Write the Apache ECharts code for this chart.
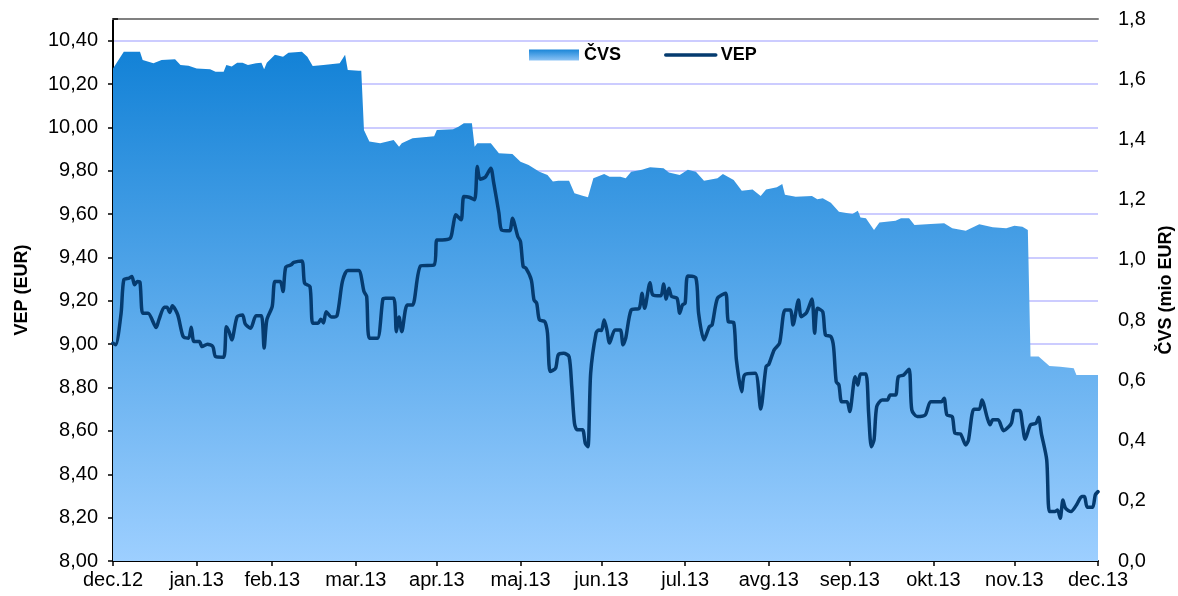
<!DOCTYPE html>
<html>
<head>
<meta charset="utf-8">
<script src="https://cdn.jsdelivr.net/npm/echarts@6/dist/echarts.min.js"></script>
<style>
html,body{margin:0;padding:0;background:#fff;}
#chart{width:1178px;height:596px;}
</style>
</head>
<body>
<div id="chart"></div>
<script>
// Month-end tick labels (x axis)
const tickLabels = ['dec.12','jan.13','feb.13','mar.13','apr.13','maj.13','jun.13','jul.13','avg.13','sep.13','okt.13','nov.13','dec.13'];

// ČVS (mio EUR) – day offsets from 31.12.2012 and values
const cvsDays = [0,4,10,11,15,18,23,25,28,31,
  36,38,41,42,44,46,48,50,53,55,
  56,57,60,63,65,70,72,74,78,84,
  86,87,91,92,93,95,99,104,106,107,
  111,119,120,126,128,130,133,134,135,140,
  143,148,151,154,158,161,163,165,169,171,
  174,176,178,182,184,188,190,192,196,199,
  204,206,210,213,216,219,224,226,230,233,
  237,240,242,246,248,249,253,259,261,263,
  266,269,274,276,277,279,282,284,290,292,
  295,297,303,308,311,316,321,326,331,334,
  337,339,340,343,347,351,356,357,365];
const cvsValues = [1.636,1.691,1.691,1.664,1.653,1.664,1.666,1.647,1.645,1.636,
  1.633,1.625,1.625,1.647,1.642,1.655,1.655,1.647,1.653,1.655,
  1.633,1.655,1.681,1.675,1.688,1.691,1.675,1.644,1.647,1.653,
  1.681,1.631,1.628,1.628,1.431,1.393,1.387,1.398,1.376,1.387,
  1.404,1.411,1.431,1.434,1.442,1.454,1.454,1.376,1.387,1.387,
  1.354,1.352,1.326,1.315,1.293,1.282,1.260,1.263,1.263,1.221,
  1.213,1.208,1.271,1.285,1.276,1.276,1.271,1.293,1.299,1.308,
  1.304,1.290,1.282,1.299,1.293,1.263,1.271,1.285,1.265,1.230,
  1.234,1.212,1.234,1.241,1.252,1.216,1.210,1.212,1.201,1.205,
  1.190,1.160,1.152,1.163,1.141,1.138,1.099,1.124,1.130,1.138,
  1.138,1.116,1.119,1.122,1.105,1.097,1.118,1.108,1.105,1.113,
  1.110,1.099,0.679,0.679,0.648,0.645,0.640,0.618,0.618];

// VEP (EUR) – day offsets from 31.12.2012 and values
const vepDays = [0,1,3,4,6,7,8,9,10,11,
  13,16,17,19,20,21,22,24,26,28,
  29,30,32,33,35,37,38,41,42,43,
  44,46,48,49,51,53,55,56,57,59,
  60,62,63,64,66,67,70,71,73,74,
  76,77,78,79,81,83,85,87,91,93,
  94,95,98,100,101,104,105,106,107,109,
  111,114,119,120,122,125,126,127,129,130,
  132,134,135,136,138,140,141,143,144,147,
  148,150,151,152,153,155,156,157,158,160,
  161,162,164,165,167,169,170,171,172,174,
  175,176,177,179,180,181,182,183,184,186,
  188,189,190,192,195,196,197,199,200,203,
  204,205,206,207,209,210,211,212,213,216,
  217,219,221,222,224,227,228,230,231,233,
  234,238,240,242,243,245,247,249,251,252,
  254,255,257,259,260,261,263,264,266,267,
  268,269,270,272,273,275,276,277,279,280,
  281,282,283,285,287,288,290,291,293,295,
  296,298,301,303,307,308,309,311,312,314,
  316,317,319,321,322,324,325,326,328,330,
  332,333,334,336,337,338,340,342,343,344,
  346,347,349,350,351,352,353,355,357,359,
  360,361,363,364,365];
const vepValues = [9.005,8.997,9.143,9.297,9.305,9.312,9.274,9.289,9.285,9.143,
  9.143,9.077,9.112,9.171,9.171,9.146,9.177,9.135,9.035,9.028,
  9.078,9.012,9.012,8.989,9.000,8.989,8.943,8.940,9.081,9.058,
  9.020,9.127,9.135,9.094,9.074,9.131,9.131,8.982,9.112,9.174,
  9.289,9.289,9.243,9.355,9.366,9.377,9.384,9.281,9.266,9.097,
  9.097,9.115,9.098,9.150,9.125,9.131,9.289,9.340,9.340,9.243,
  9.220,9.028,9.028,9.208,9.212,9.212,9.058,9.125,9.058,9.181,
  9.181,9.361,9.366,9.481,9.481,9.489,9.543,9.597,9.574,9.681,
  9.678,9.666,9.820,9.761,9.771,9.812,9.750,9.605,9.527,9.523,
  9.581,9.497,9.473,9.358,9.351,9.297,9.204,9.189,9.112,9.104,
  9.051,8.874,8.889,8.951,8.958,8.943,8.804,8.635,8.605,8.605,
  8.543,8.527,8.866,9.051,9.066,9.063,9.112,9.066,9.005,9.066,
  9.066,8.997,9.028,9.158,9.166,9.235,9.166,9.284,9.228,9.223,
  9.278,9.208,9.258,9.220,9.212,9.143,9.181,9.189,9.315,9.305,
  9.143,9.020,9.081,9.089,9.212,9.235,9.104,9.100,8.928,8.781,
  8.858,8.866,8.701,8.897,8.907,8.974,9.005,9.158,9.158,9.089,
  9.204,9.127,9.146,9.208,9.051,9.166,9.150,9.043,9.035,8.989,
  8.827,8.812,8.735,8.735,8.689,8.850,8.812,8.862,8.862,8.682,
  8.527,8.558,8.712,8.743,8.743,8.766,8.766,8.850,8.858,8.885,
  8.697,8.666,8.674,8.735,8.735,8.751,8.674,8.666,8.589,8.586,
  8.535,8.558,8.700,8.700,8.743,8.659,8.628,8.651,8.651,8.601,
  8.620,8.638,8.694,8.694,8.628,8.562,8.628,8.635,8.663,8.589,
  8.466,8.228,8.228,8.235,8.197,8.281,8.243,8.228,8.258,8.297,
  8.297,8.248,8.248,8.305,8.320];

// Day offset (from 31.12.2012) of each month-end tick: dec.12 .. dec.13
const DAY = 86400000;
const origin = Date.UTC(2012, 11, 31);
const tickDays = tickLabels.map((_, i) => Math.round((Date.UTC(2013, i, 0) - origin) / DAY));

const cvsData = cvsDays.map((d, i) => [d, cvsValues[i]]);
const vepData = vepDays.map((d, i) => [d, vepValues[i]]);

const FONT = '"Liberation Sans", Arial, sans-serif';
const chart = echarts.init(document.getElementById('chart'), null, {renderer: 'canvas'});

const areaGradient = new echarts.graphic.LinearGradient(0, 19, 0, 561, [
  {offset: 0, color: '#0a7dd4'},
  {offset: 1, color: '#9dcfff'}
], true);
const legendGradient = new echarts.graphic.LinearGradient(0, 0, 0, 1, [
  {offset: 0, color: '#1a86d8'},
  {offset: 1, color: '#8cc3f5'}
]);

function fmtLabel(val){
  const i = tickDays.indexOf(Math.round(val));
  return i >= 0 ? tickLabels[i] : '';
}

chart.setOption({
  animation: false,
  backgroundColor: '#ffffff',
  textStyle: {fontFamily: FONT},
  grid: {left: 113, right: 80, top: 19, bottom: 35, containLabel: false, outerBoundsMode: 'none'},
  legend: {
    left: 524, top: 41,
    itemWidth: 50, itemHeight: 11, itemGap: 43,
    textStyle: {fontFamily: FONT, fontSize: 18, fontWeight: 'bold', color: '#000'},
    data: [
      {name: 'ČVS', icon: 'rect', itemStyle: {color: legendGradient}},
      {name: 'VEP', itemStyle: {color: 'rgba(0,0,0,0)', borderWidth: 0, borderColor: 'rgba(0,0,0,0)'},
        lineStyle: {width: 3.5, color: '#053b6f'}}
    ]
  },
  xAxis: [{
    type: 'value',
    min: 0, max: 365,
    splitLine: {show: false},
    axisLine: {show: true, lineStyle: {color: '#000', width: 2}},
    axisTick: {show: true, length: 5, lineStyle: {color: '#000', width: 1.5}, customValues: tickDays},
    axisLabel: {
      customValues: tickDays,
      formatter: fmtLabel,
      fontSize: 20, color: '#000', margin: 9, fontFamily: FONT,
      hideOverlap: false
    }
  }, {
    type: 'value', position: 'top',
    min: 0, max: 365,
    splitLine: {show: false},
    axisLine: {show: true, lineStyle: {color: '#808080', width: 2}},
    axisTick: {show: false},
    axisLabel: {show: false}
  }],
  yAxis: [{
    type: 'value', position: 'left',
    min: 8, max: 10.5, interval: 0.2,
    name: 'VEP (EUR)', nameLocation: 'middle', nameRotate: 90, nameGap: 82,
    nameTextStyle: {fontFamily: FONT, fontSize: 18, fontWeight: 'bold', color: '#000'},
    axisLine: {show: true, lineStyle: {color: '#000', width: 2}},
    axisTick: {show: true, length: 5, lineStyle: {color: '#000', width: 1.5}},
    axisLabel: {
      formatter: v => v.toFixed(2).replace('.', ','),
      fontSize: 20, color: '#000', margin: 15, fontFamily: FONT,
      showMaxLabel: false
    },
    splitLine: {show: true, lineStyle: {color: '#ccccff', width: 2}}
  }, {
    type: 'value', position: 'right',
    min: 0, max: 1.8, interval: 0.2,
    name: 'ČVS (mio EUR)', nameLocation: 'middle', nameRotate: 90, nameGap: 56,
    nameTextStyle: {fontFamily: FONT, fontSize: 18, fontWeight: 'bold', color: '#000'},
    axisLine: {show: true, lineStyle: {color: '#000', width: 2}},
    axisTick: {show: true, length: 5, lineStyle: {color: '#000', width: 1.5}},
    axisLabel: {
      formatter: v => v.toFixed(1).replace('.', ','),
      fontSize: 20, color: '#000', margin: 20, fontFamily: FONT
    },
    splitLine: {show: false}
  }],
  series: [{
    name: 'ČVS',
    type: 'line',
    xAxisIndex: 0, yAxisIndex: 1,
    data: cvsData,
    symbol: 'none',
    smooth: false,
    lineStyle: {width: 0, color: '#1a86d8'},
    itemStyle: {color: '#1a86d8'},
    areaStyle: {color: areaGradient, opacity: 1},
    z: 1
  }, {
    name: 'VEP',
    type: 'line',
    xAxisIndex: 0, yAxisIndex: 0,
    data: vepData,
    symbol: 'none',
    smooth: 0.25,
    lineStyle: {width: 3.5, color: '#053b6f', join: 'round', cap: 'round'},
    itemStyle: {color: '#053b6f'},
    z: 3
  }]
});
</script>
</body>
</html>
